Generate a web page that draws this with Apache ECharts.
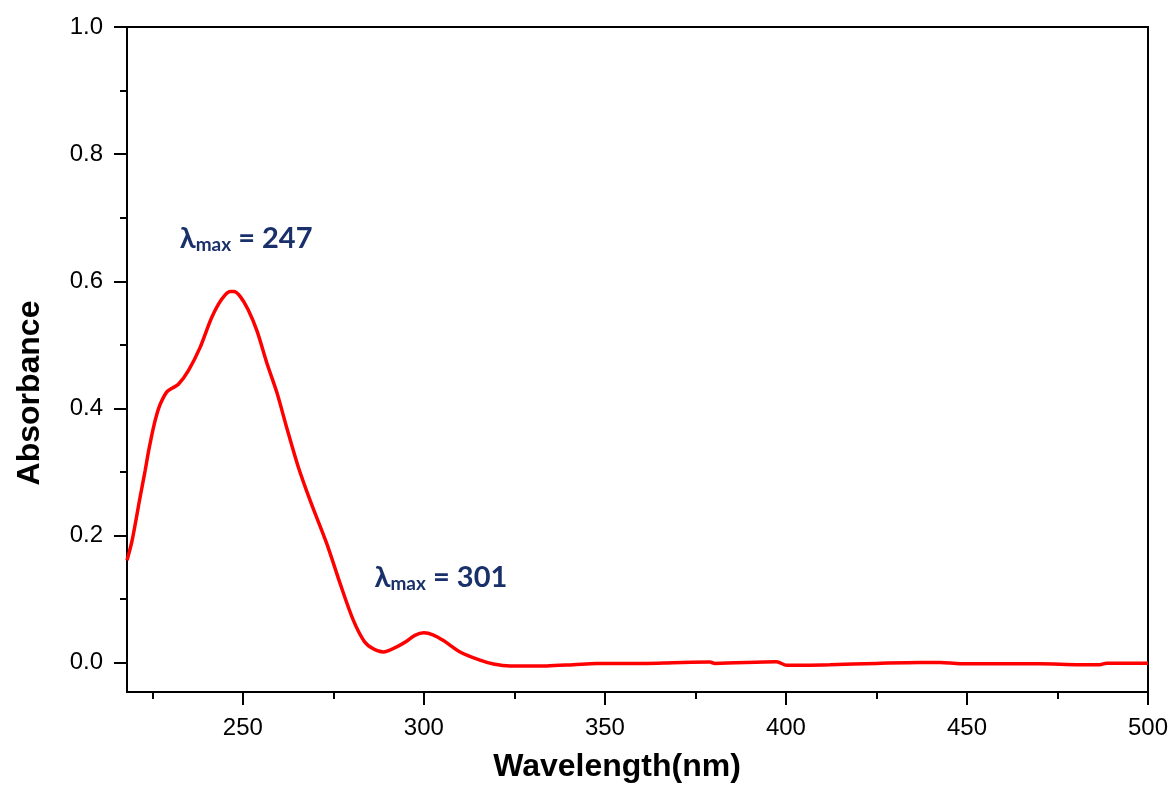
<!DOCTYPE html>
<html>
<head>
<meta charset="utf-8">
<script src="https://cdn.jsdelivr.net/npm/echarts@6/dist/echarts.min.js"></script>
<style>
  html, body { margin: 0; padding: 0; background: #fff; }
  #chart { width: 1174px; height: 786px; }
</style>
</head>
<body>
<div id="chart"></div>
<script>
// wavelength (nm) and absorbance
const wavelengths = [218, 219.4, 221.6, 223, 224, 225.3, 226.3, 227.2, 229, 230.5,
  232.2, 235, 238.2, 241.4, 244.2, 246.5, 247.5, 249.3, 251.5, 253.9,
  256.6, 259.4, 262.1, 265.2, 268.6, 273.2, 276.9, 280.5, 283.5, 286,
  288.8, 292.5, 295, 297.5, 300, 302.5, 305.4, 310, 315.5, 319.2,
  323.8, 333.9, 341.3, 347.7, 361.5, 368.9, 379, 380.4, 397.4, 400.2,
  412.1, 425, 437, 442.6, 448.1, 470.2, 481.2, 486.7, 488.6, 500];
const absorbance = [0.161, 0.192, 0.26, 0.302, 0.334, 0.370, 0.392, 0.407, 0.426, 0.432,
  0.438, 0.460, 0.496, 0.543, 0.572, 0.584, 0.584, 0.576, 0.555, 0.522,
  0.472, 0.425, 0.37, 0.310, 0.255, 0.187, 0.124, 0.067, 0.034, 0.022,
  0.017, 0.025, 0.033, 0.043, 0.047, 0.044, 0.035, 0.017, 0.004, -0.002,
  -0.005, -0.005, -0.003, -0.001, -0.001, 0.0, 0.001, -0.001, 0.0015, -0.004,
  -0.003, -0.001, 0.0005, 0.0005, -0.0015, -0.0015, -0.003, -0.003, -0.0006, -0.0006];

const xMajor = [250, 300, 350, 400, 450, 500];
const xMinor = [225, 275, 325, 375, 425, 475];
const yMajor = [0, 0.2, 0.4, 0.6, 0.8, 1.0];
const yMinor = [0.1, 0.3, 0.5, 0.7, 0.9];

// peak annotations: [label, x, y] in data units
const peaks = [
  ['247', 250.9, 0.667],
  ['301', 304.7, 0.134]
];

const chart = echarts.init(document.getElementById('chart'));

const axisFont = { color: '#000', fontFamily: 'Liberation Sans', fontSize: 24 };
const xRange = { min: 218, max: 500 };
const yRange = { min: -0.046, max: 1.0 };
const black = { color: '#000', width: 2 };

chart.setOption({
  animation: false,
  backgroundColor: '#fff',
  grid: {
    left: 127, right: 26, top: 27, bottom: 94,
    show: true, borderColor: '#000', borderWidth: 2,
    outerBoundsMode: 'none'
  },
  xAxis: [
    {
      type: 'value', ...xRange, position: 'bottom',
      axisLine: { show: true, onZero: false, lineStyle: black },
      axisTick: { show: true, customValues: xMajor, length: 13, lineStyle: black },
      axisLabel: { customValues: xMajor, margin: 24, ...axisFont },
      splitLine: { show: false }
    },
    {
      type: 'value', ...xRange, position: 'bottom',
      axisLine: { show: false, onZero: false },
      axisTick: { show: true, customValues: xMinor, length: 7, lineStyle: black },
      axisLabel: { show: false },
      splitLine: { show: false }
    }
  ],
  yAxis: [
    {
      type: 'value', ...yRange, position: 'left',
      axisLine: { show: true, onZero: false, lineStyle: black },
      axisTick: { show: true, customValues: yMajor, length: 13, lineStyle: black },
      axisLabel: { customValues: yMajor, margin: 24, formatter: v => v.toFixed(1), ...axisFont },
      splitLine: { show: false }
    },
    {
      type: 'value', ...yRange, position: 'left',
      axisLine: { show: false, onZero: false },
      axisTick: { show: true, customValues: yMinor, length: 7, lineStyle: black },
      axisLabel: { show: false },
      splitLine: { show: false }
    }
  ],
  series: [{
    type: 'line',
    data: wavelengths.map((w, i) => [w, absorbance[i]]),
    smooth: 0.3,
    showSymbol: false,
    lineStyle: { color: '#ff0000', width: 3.5 },
    markPoint: {
      symbol: 'circle', symbolSize: 0,
      label: {
        show: true, position: 'inside',
        formatter: p => '{l|λ}{s|max}{l| = ' + p.name + '}',
        rich: {
          l: { fontFamily: 'Lato', fontWeight: 'bold', fontSize: 29, color: '#19306a' },
          s: { fontFamily: 'Lato', fontWeight: 'bold', fontSize: 19, color: '#19306a', padding: [12, 0, 0, 0] }
        }
      },
      data: peaks.map(p => ({ name: p[0], coord: [p[1], p[2]] }))
    }
  }],
  graphic: [
    {
      type: 'text', x: 617, y: 767,
      style: { text: 'Wavelength(nm)', fontFamily: 'Liberation Sans', fontWeight: 'bold', fontSize: 32, fill: '#000', align: 'center', verticalAlign: 'middle' }
    },
    {
      type: 'text', x: 30, y: 393, rotation: Math.PI / 2,
      style: { text: 'Absorbance', fontFamily: 'Liberation Sans', fontWeight: 'bold', fontSize: 32, fill: '#000', align: 'center', verticalAlign: 'middle' }
    }
  ]
});
</script>
</body>
</html>
